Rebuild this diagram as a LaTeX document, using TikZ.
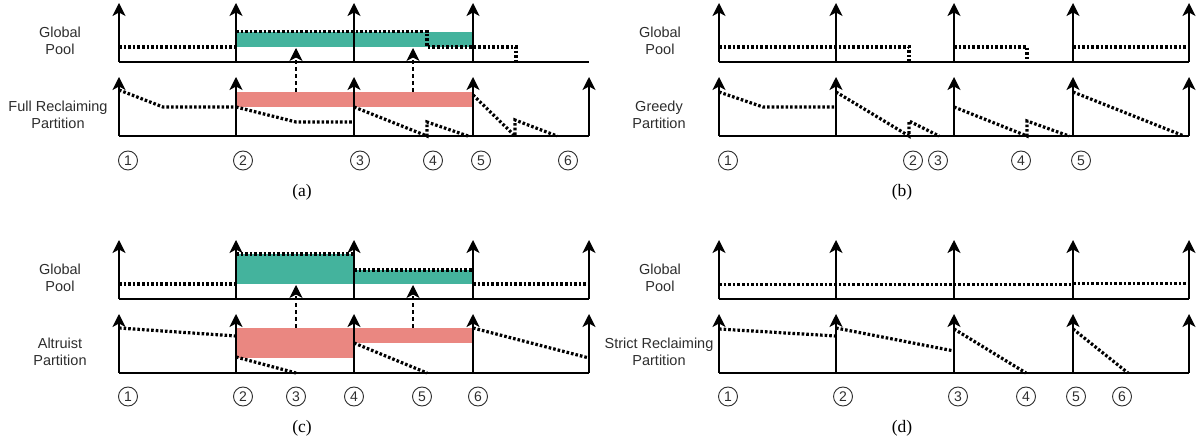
\documentclass[tikz,border=0pt]{standalone}
\usepackage{fontspec}
\setmainfont{Liberation Serif}
\setsansfont{Liberation Sans}
\usetikzlibrary{arrows.meta}
\definecolor{poolgreen}{RGB}{68,179,157}
\definecolor{partred}{RGB}{234,135,129}
\definecolor{txt}{RGB}{45,45,45}
\tikzset{
  axisarrow/.style={line width=1.4pt, -{Stealth[length=13pt,width=13pt,inset=3.5pt]}},
  xaxis/.style={line width=2pt},
  occ/.style={line width=3.2pt, dash pattern=on 2.6pt off 2pt},
  transfer/.style={line width=1.1pt, dash pattern=on 4pt off 3pt, -{Stealth[length=13pt,width=13pt,inset=3.5pt]}},
  rowlabel/.style={font=\sffamily\fontsize{14.5}{17.2}\selectfont, align=center, text=txt, inner sep=0pt},
  evnum/.style={circle, draw=txt, line width=0.9pt, inner sep=0pt, minimum size=19pt, font=\sffamily\fontsize{14}{14}\selectfont, text=txt},
  subcap/.style={font=\fontsize{17.5}{17.5}\selectfont, inner sep=0pt},
}
\begin{document}
\begin{tikzpicture}[x=1pt,y=-1pt]
\useasboundingbox (0,0) rectangle (1203,443);

% ================= (a) =================
\begin{scope}
  \fill[poolgreen] (236,31.7) rectangle (473,46.7);
  \fill[partred] (236,92) rectangle (473,107);
  \draw[xaxis] (119,62) -- (589,62);
  \draw[xaxis] (119,136) -- (589,136);
  \foreach \x in {119,236,354,473} \draw[axisarrow] (\x,62) -- (\x,3);
  \foreach \x in {119,236,354,473,589} \draw[axisarrow] (\x,136) -- (\x,77);
  \draw[occ] (119,47) -- (236,47);
  \draw[occ] (236,31.7) -- (427,31.7) -- (427,47) -- (516,47) -- (516,62);
  \draw[occ] (119,90) -- (163,107) -- (236,107);
  \draw[occ] (236,107) -- (296,122) -- (352,122);
  \draw[occ] (354,107) -- (427,136) -- (427,122) -- (468,136);
  \draw[occ] (473,95) -- (515,136) -- (515,120) -- (557,136);
  \draw[transfer] (296,92) -- (296,48);
  \draw[transfer] (413,92) -- (413,48);
  \node[rowlabel] (aGP) at (60,40.5) {Global\\Pool};
  \node[rowlabel] (aPL) at (58,114.5) {Full Reclaiming\\Partition};
  \node[evnum] (a1) at (128,160.5) {1};
  \node[evnum] (a2) at (243,160.5) {2};
  \node[evnum] (a3) at (360,160.5) {3};
  \node[evnum] (a4) at (433,160.5) {4};
  \node[evnum] (a5) at (481,160.5) {5};
  \node[evnum] (a6) at (568,160.5) {6};
  \node[subcap] (acap) at (302,192) {(a)};
\end{scope}

% ================= (b) =================
\begin{scope}[shift={(600,0)}]
  \draw[xaxis] (119,62) -- (589,62);
  \draw[xaxis] (119,136) -- (589,136);
  \foreach \x in {119,236,354,473,589} \draw[axisarrow] (\x,62) -- (\x,3);
  \foreach \x in {119,236,354,473,589} \draw[axisarrow] (\x,136) -- (\x,77);
  \draw[occ] (119,47) -- (309,47) -- (309,62);
  \draw[occ] (354,47) -- (427,47) -- (427,62);
  \draw[occ] (473,47) -- (589,47);
  \draw[occ] (119,92) -- (163,107) -- (236,107);
  \draw[occ] (236,92) -- (309,136) -- (309,121) -- (339,136);
  \draw[occ] (354,107) -- (427,136) -- (427,121) -- (469,136);
  \draw[occ] (473,92) -- (584,136);
  \node[rowlabel] (bGP) at (60,40.5) {Global\\Pool};
  \node[rowlabel] (bPL) at (59,114.5) {Greedy\\Partition};
  \node[evnum] (b1) at (128,160.5) {1};
  \node[evnum] (b2) at (313,160.5) {2};
  \node[evnum] (b3) at (338,160.5) {3};
  \node[evnum] (b4) at (421,160.5) {4};
  \node[evnum] (b5) at (481,160.5) {5};
  \node[subcap] (bcap) at (302,192) {(b)};
\end{scope}

% ================= (c) =================
\begin{scope}[shift={(0,237)}]
  \fill[poolgreen] (236,17) rectangle (354,47);
  \fill[poolgreen] (354,33) rectangle (473,47);
  \fill[partred] (236,91) rectangle (354,121);
  \fill[partred] (354,91) rectangle (473,106);
  \draw[xaxis] (119,62) -- (589,62);
  \draw[xaxis] (119,136) -- (589,136);
  \foreach \x in {119,236,354,473,589} \draw[axisarrow] (\x,62) -- (\x,3);
  \foreach \x in {119,236,354,473,589} \draw[axisarrow] (\x,136) -- (\x,77);
  \draw[occ] (119,47) -- (236,47);
  \draw[occ] (236,17) -- (354,17);
  \draw[occ] (354,33) -- (473,33);
  \draw[occ] (473,47) -- (589,47);
  \draw[occ] (119,91) -- (236,99);
  \draw[occ] (236,120) -- (296,136);
  \draw[occ] (354,106) -- (427,136);
  \draw[occ] (473,91) -- (589,121);
  \draw[transfer] (296,91) -- (296,48);
  \draw[transfer] (413,91) -- (413,48);
  \node[rowlabel] (cGP) at (60,40.5) {Global\\Pool};
  \node[rowlabel] (cPL) at (60,114.5) {Altruist\\Partition};
  \node[evnum] (c1) at (128,159.5) {1};
  \node[evnum] (c2) at (243,159.5) {2};
  \node[evnum] (c3) at (296,159.5) {3};
  \node[evnum] (c4) at (354,159.5) {4};
  \node[evnum] (c5) at (422,159.5) {5};
  \node[evnum] (c6) at (478,159.5) {6};
  \node[subcap] (ccap) at (302,191) {(c)};
\end{scope}

% ================= (d) =================
\begin{scope}[shift={(600,237)}]
  \draw[xaxis] (119,62) -- (589,62);
  \draw[xaxis] (119,136) -- (589,136);
  \foreach \x in {119,236,354,473,589} \draw[axisarrow] (\x,62) -- (\x,3);
  \foreach \x in {119,236,354,473,589} \draw[axisarrow] (\x,136) -- (\x,77);
  \draw[occ] (119,47.5) -- (473,47.5);
  \draw[occ] (473,46.3) -- (589,46.3);
  \draw[occ] (119,92) -- (236,99);
  \draw[occ] (236,91) -- (354,114);
  \draw[occ] (354,92) -- (426,136);
  \draw[occ] (473,92) -- (528,136);
  \node[rowlabel] (dGP) at (60,40.5) {Global\\Pool};
  \node[rowlabel] (dPL) at (59,114.5) {Strict Reclaiming\\Partition};
  \node[evnum] (d1) at (128,159.5) {1};
  \node[evnum] (d2) at (243,159.5) {2};
  \node[evnum] (d3) at (358,159.5) {3};
  \node[evnum] (d4) at (426,159.5) {4};
  \node[evnum] (d5) at (476,159.5) {5};
  \node[evnum] (d6) at (522,159.5) {6};
  \node[subcap] (dcap) at (302,191) {(d)};
\end{scope}
\end{tikzpicture}
\end{document}
